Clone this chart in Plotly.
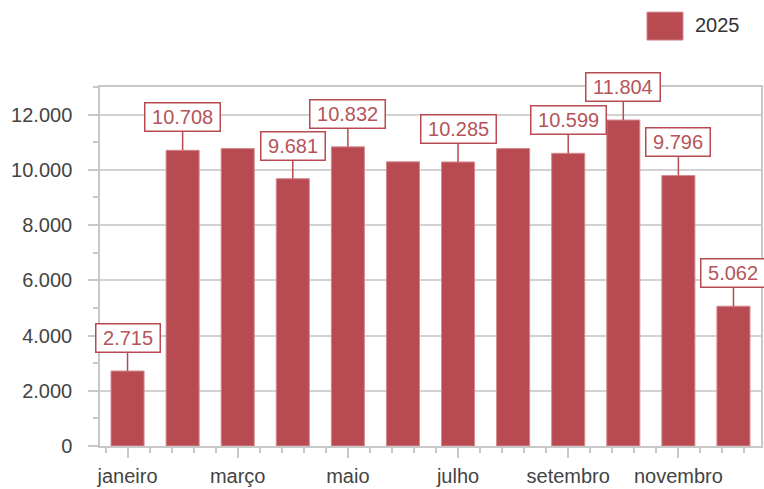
import plotly.graph_objects as go

months = ["janeiro", "fevereiro", "março", "abril", "maio", "junho",
          "julho", "agosto", "setembro", "outubro", "novembro", "dezembro"]
values_2025 = [2715, 10708, 10770, 9681, 10832, 10290,
               10285, 10770, 10599, 11804, 9796, 5062]
label_shown = [True, True, False, True, True, False,
               True, False, True, True, True, True]
series_name = "2025"
y_ticks = [0, 2000, 4000, 6000, 8000, 10000, 12000]

BAR = "#b84b51"
FONT = "Liberation Sans"

def fmt(v):
    return f"{v:,}".replace(",", ".")

xs = list(range(len(months)))

fig = go.Figure()
fig.add_trace(go.Bar(
    x=xs, y=values_2025, name=series_name,
    marker=dict(color=BAR, line=dict(color="#d58a8d", width=1)),
    showlegend=False, hoverinfo="skip",
))

annotations = []
for i, (v, show) in enumerate(zip(values_2025, label_shown)):
    if not show:
        continue
    annotations.append(dict(
        x=i, y=v, xref="x", yref="y",
        text="\u00a0" + fmt(v) + "\u00a0",
        showarrow=True, arrowhead=0, arrowwidth=1.5, arrowcolor=BAR,
        ax=0, ay=-33, standoff=0,
        bgcolor="white", bordercolor=BAR, borderwidth=1.5, borderpad=1,
        height=25,
        font=dict(family=FONT, size=20, color="#b5545a"),
    ))

# legend drawn manually (large swatch)
annotations.append(dict(
    x=0.897, y=1.1725, xref="paper", yref="paper", xanchor="left", yanchor="middle",
    text=series_name, showarrow=False,
    font=dict(family=FONT, size=20, color="#333333"),
))
shapes = [dict(type="rect", xref="paper", yref="paper",
               x0=0.8275, x1=0.882, y0=1.1307, y1=1.2086,
               fillcolor=BAR, line=dict(color="#d58a8d", width=1))]

fig.update_layout(
    width=764, height=489,
    margin=dict(l=100, r=3, t=87, b=43, autoexpand=False),
    paper_bgcolor="white", plot_bgcolor="white",
    separators=",.",
    bargap=0.4,
    font=dict(family=FONT, size=20, color="#444444"),
    annotations=annotations, shapes=shapes,
    showlegend=False,
)

fig.update_xaxes(
    range=[-0.5, 11.5],
    tickmode="array",
    tickvals=xs[::2], ticktext=months[::2],
    ticks="outside", ticklen=10, tickcolor="#c8c8c8", tickwidth=1.5,
    ticklabelstandoff=1,
    showgrid=False, zeroline=False,
    showline=True, linecolor="#c8c8c8", linewidth=1.5, mirror=True,
    tickfont=dict(family=FONT, size=20, color="#444444"),
    minor=dict(ticks="outside", ticklen=5, tickcolor="#c8c8c8", tickwidth=1.5,
               tick0=0, dtick=0.4, showgrid=False),
)
fig.update_yaxes(
    range=[0, 13000],
    tickmode="array", tickvals=y_ticks,
    ticktext=[fmt(t) for t in y_ticks],
    ticks="outside", ticklen=10, tickcolor="#c8c8c8", tickwidth=1.5,
    ticklabelstandoff=12,
    showgrid=True, gridcolor="#d2d2d2", gridwidth=1.5,
    zeroline=False,
    showline=True, linecolor="#c8c8c8", linewidth=1.5, mirror=True,
    tickfont=dict(family=FONT, size=20, color="#444444"),
    minor=dict(ticks="outside", ticklen=5, tickcolor="#c8c8c8", tickwidth=1.5,
               tick0=0, dtick=1000, showgrid=False),
)

fig.write_html("out.html", config={"responsive": False, "displayModeBar": False},
               post_script="document.body.style.margin='0px';")
